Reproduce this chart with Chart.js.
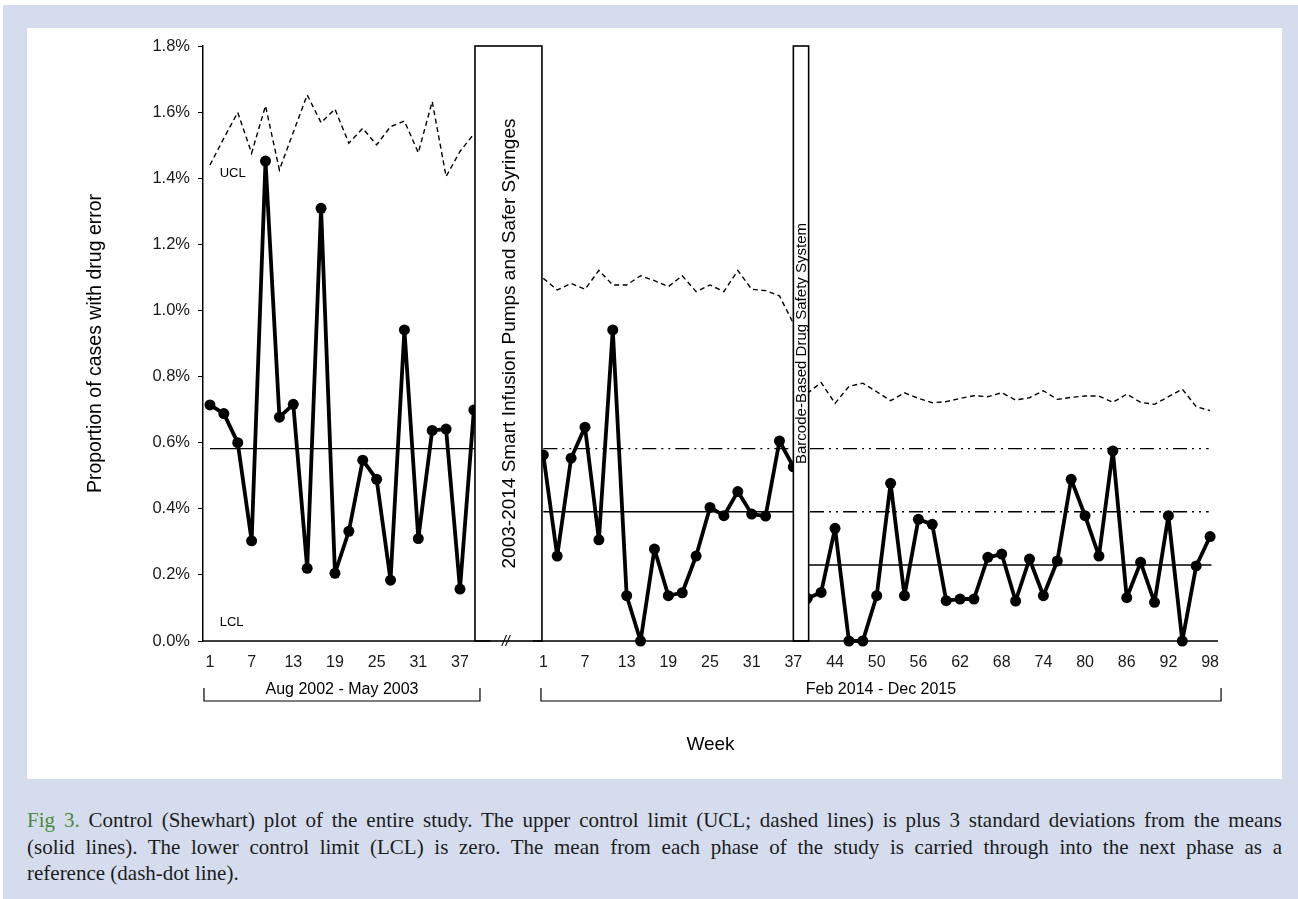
<!DOCTYPE html>
<html>
<head>
<meta charset="utf-8">
<script src="https://cdn.jsdelivr.net/npm/chart.js@4.4.0/dist/chart.umd.min.js"></script>
<style>
  html, body { margin: 0; padding: 0; background: #fff; }
  body { width: 1298px; height: 899px; position: relative; overflow: hidden; }
  #bg { position: absolute; left: 3px; top: 5px; right: 0; bottom: 0; background: #d4dcee; }
  #panel { position: absolute; left: 27px; top: 28px; width: 1255px; height: 751px; background: #fff; }
  #chart { position: absolute; left: 0; top: 0; }
  #caption { position: absolute; left: 27px; top: 807px; width: 1255px;
    font-family: "Liberation Serif", "Times New Roman", serif; font-size: 21px; color: #1c1c1c; line-height: 26.5px; }
  #caption div { text-align: justify; text-align-last: justify; white-space: nowrap; }
  #caption div.last { text-align-last: left; }
  #caption b { color: #4f8a3c; font-weight: normal; }
</style>
</head>
<body>
<div id="bg"></div>
<div id="panel"></div>
<canvas id="chart" width="1298" height="780"></canvas>
<div id="caption">
  <div><b>Fig 3.</b> Control (Shewhart) plot of the entire study. The upper control limit (UCL; dashed lines) is plus 3 standard deviations from the means</div>
  <div>(solid lines). The lower control limit (LCL) is zero. The mean from each phase of the study is carried through into the next phase as a</div>
  <div class="last">reference (dash-dot line).</div>
</div>
<script>
// phase 1: Aug 2002 - May 2003 (two-week points)
const weeks1 = [1, 3, 5, 7, 9, 11, 13, 15, 17, 19, 21, 23, 25, 27, 29, 31, 33, 35, 37, 39];
const errors1 = [0.714, 0.688, 0.600, 0.303, 1.452, 0.677, 0.716, 0.220, 1.309, 0.205,
                 0.332, 0.547, 0.489, 0.184, 0.941, 0.310, 0.637, 0.641, 0.157, 0.699];
const ucl1 = [1.440, 1.521, 1.599, 1.476, 1.619, 1.425, 1.539, 1.652, 1.568, 1.609,
              1.506, 1.551, 1.501, 1.556, 1.573, 1.477, 1.632, 1.405, 1.481, 1.534];

// phase 2: smart pumps + safer syringes
const weeks2 = [1, 3, 5, 7, 9, 11, 13, 15, 17, 19, 21, 23, 25, 27, 29, 31, 33, 35, 37];
const errors2 = [0.563, 0.257, 0.553, 0.647, 0.306, 0.941, 0.137, 0.000, 0.278, 0.137,
                 0.146, 0.257, 0.404, 0.379, 0.452, 0.384, 0.378, 0.605, 0.527];
const ucl2 = [1.097, 1.062, 1.082, 1.064, 1.121, 1.077, 1.077, 1.105, 1.090, 1.072,
              1.105, 1.057, 1.077, 1.057, 1.121, 1.064, 1.060, 1.044, 0.961];

// phase 3: barcode-based drug safety system
const weeks3 = [40, 42, 44, 46, 48, 50, 52, 54, 56, 58, 60, 62, 64, 66, 68,
                70, 72, 74, 76, 78, 80, 82, 84, 86, 88, 90, 92, 94, 96, 98];
const errors3 = [0.129, 0.147, 0.341, 0.000, 0.000, 0.137, 0.477, 0.137, 0.368, 0.353,
                 0.122, 0.127, 0.127, 0.253, 0.263, 0.121, 0.248, 0.137, 0.242, 0.489,
                 0.379, 0.257, 0.575, 0.131, 0.238, 0.117, 0.379, 0.000, 0.227, 0.316];
const ucl3 = [0.749, 0.782, 0.719, 0.770, 0.780, 0.754, 0.727, 0.751, 0.734, 0.721,
              0.724, 0.734, 0.742, 0.739, 0.751, 0.729, 0.736, 0.757, 0.731, 0.737,
              0.741, 0.741, 0.722, 0.747, 0.722, 0.716, 0.739, 0.762, 0.709, 0.697];

const phaseMeans = [0.582, 0.391, 0.230];
const yTicks = [0, 0.2, 0.4, 0.6, 0.8, 1.0, 1.2, 1.4, 1.6, 1.8];
const periodLabels = ["Aug 2002 - May 2003", "Feb 2014 - Dec 2015"];
const interventions = ["2003-2014 Smart Infusion Pumps and Safer Syringes", "Barcode-Based Drug Safety System"];

// slot layout on the x axis (positions only)
const start = [0, 24, 43];
const FONT = "'Liberation Sans', Arial, sans-serif";

function pts(offset, values) {
  return values.map((v, i) => ({ x: offset + i, y: v }));
}
function hline(x0, x1, y) {
  return [{ x: x0, y: y }, { x: x1, y: y }];
}

// tick positions every third point
const tickLabels = {};
weeks1.forEach((w, i) => { if (i % 3 === 0) tickLabels[start[0] + i] = w; });
weeks2.concat(weeks3).forEach((w, i) => { if (i % 3 === 0) tickLabels[start[1] + i] = w; });

const dashDot = [14, 5, 2, 5, 2, 5];

const seriesStyle = {
  borderColor: "#000", backgroundColor: "#000", borderWidth: 3.8, borderJoinStyle: "round",
  pointRadius: 5.5, pointHoverRadius: 5.5, pointBorderWidth: 0, clip: false
};
const uclStyle = { borderColor: "#000", borderWidth: 1.4, borderDash: [5, 3.5], pointRadius: 0, clip: false };
const meanStyle = { borderColor: "#000", borderWidth: 1.4, pointRadius: 0, clip: false };
const refStyle = { borderColor: "#000", borderWidth: 1.4, borderDash: dashDot, pointRadius: 0, clip: false };

const datasets = [
  Object.assign({ data: pts(start[0], errors1) }, seriesStyle),
  Object.assign({ data: pts(start[1], errors2) }, seriesStyle),
  Object.assign({ data: pts(start[2], errors3) }, seriesStyle),
  Object.assign({ data: pts(start[0], ucl1) }, uclStyle),
  Object.assign({ data: pts(start[1], ucl2) }, uclStyle),
  Object.assign({ data: pts(start[2], ucl3) }, uclStyle),
  Object.assign({ data: hline(0, 19.1, phaseMeans[0]) }, meanStyle),
  Object.assign({ data: hline(24, 42, phaseMeans[1]) }, meanStyle),
  Object.assign({ data: hline(43, 72.1, phaseMeans[2]) }, meanStyle),
  Object.assign({ data: hline(24, 42, phaseMeans[0]) }, refStyle),
  Object.assign({ data: hline(43.2, 71.9, phaseMeans[0]) }, refStyle),
  Object.assign({ data: hline(43.2, 71.9, phaseMeans[1]) }, refStyle)
];

const extras = {
  id: "extras",
  afterDatasetsDraw(chart) {
    const { ctx, scales: { x, y } } = chart;
    const top = y.getPixelForValue(1.8), bottom = y.getPixelForValue(0);
    const boxes = [[19.08, 23.9, 19], [42.0, 43.1, 15]];
    ctx.save();
    boxes.forEach((b, i) => {
      const x0 = x.getPixelForValue(b[0]), x1 = x.getPixelForValue(b[1]);
      ctx.fillStyle = "#fff";
      ctx.fillRect(x0, top, x1 - x0, bottom - top);
      ctx.strokeStyle = "#000";
      ctx.lineWidth = 1.6;
      ctx.strokeRect(x0, top, x1 - x0, bottom - top);
      ctx.save();
      ctx.translate((x0 + x1) / 2 + 1, (top + bottom) / 2);
      ctx.rotate(-Math.PI / 2);
      ctx.fillStyle = "#000";
      ctx.font = b[2] + "px " + FONT;
      ctx.textAlign = "center";
      ctx.textBaseline = "middle";
      ctx.fillText(interventions[i], 0, 0);
      ctx.restore();
    });
    ctx.restore();
  },
  afterDraw(chart) {
    const { ctx, scales: { x, y } } = chart;
    const y0 = y.getPixelForValue(0);
    ctx.save();
    ctx.strokeStyle = "#000";
    ctx.lineWidth = 1.5;
    // broken x axis
    ctx.beginPath();
    ctx.moveTo(chart.chartArea.left, y0);
    ctx.lineTo(x.getPixelForValue(20.2), y0);
    ctx.moveTo(x.getPixelForValue(23.25), y0);
    ctx.lineTo(chart.chartArea.right, y0);
    ctx.stroke();
    ctx.fillStyle = "#000";
    ctx.font = "italic 14px " + FONT;
    ctx.textAlign = "center";
    ctx.textBaseline = "middle";
    ctx.fillText("//", x.getPixelForValue(21.3), y0 + 1);

    // UCL / LCL labels
    ctx.font = "13px " + FONT;
    ctx.textAlign = "left";
    ctx.fillText("UCL", x.getPixelForValue(0.7), y.getPixelForValue(1.415));
    ctx.fillText("LCL", x.getPixelForValue(0.7), y.getPixelForValue(0.055));

    // period brackets
    const brackets = [[-0.43, 19.44], [23.83, 72.79]];
    const by = 701;
    ctx.lineWidth = 1.2;
    ctx.font = "16px " + FONT;
    ctx.textAlign = "center";
    brackets.forEach((b, i) => {
      const x0 = x.getPixelForValue(b[0]), x1 = x.getPixelForValue(b[1]);
      ctx.beginPath();
      ctx.moveTo(x0, by - 13); ctx.lineTo(x0, by);
      ctx.lineTo(x1, by); ctx.lineTo(x1, by - 13);
      ctx.stroke();
      ctx.fillText(periodLabels[i], (x0 + x1) / 2, by - 11);
    });
    ctx.restore();
  }
};

new Chart(document.getElementById("chart"), {
  type: "line",
  data: { datasets },
  options: {
    responsive: false,
    animation: false,
    devicePixelRatio: 1,
    layout: { padding: { left: 80, right: 80, top: 46, bottom: 20 } },
    plugins: { legend: { display: false }, tooltip: { enabled: false } },
    scales: {
      x: {
        type: "linear",
        min: -0.5,
        max: 72.57,
        afterFit: s => { s.height = 119; },
        afterBuildTicks: s => { s.ticks = Object.keys(tickLabels).map(k => ({ value: Number(k) })); },
        grid: { display: false, drawTicks: false },
        border: { display: false },
        ticks: {
          autoSkip: false, maxRotation: 0, padding: 12, color: "#1a1a1a",
          font: { family: FONT, size: 16 },
          callback: v => tickLabels[v]
        },
        title: { display: true, text: "Week", color: "#000", font: { family: FONT, size: 19 } }
      },
      y: {
        min: 0,
        max: 1.8,
        afterFit: s => { s.width = 123; },
        afterBuildTicks: s => { s.ticks = yTicks.map(v => ({ value: v })); },
        grid: { drawOnChartArea: false, drawTicks: true, tickLength: 5, color: "#000" },
        border: { display: true, color: "#000", width: 1.5 },
        ticks: {
          padding: 8, color: "#1a1a1a",
          font: { family: FONT, size: 16.5 },
          callback: v => v.toFixed(1) + "%"
        },
        title: { display: true, text: "Proportion of cases with drug error", color: "#000", font: { family: FONT, size: 19.5 } }
      }
    }
  },
  plugins: [extras]
});
</script>
</body>
</html>
